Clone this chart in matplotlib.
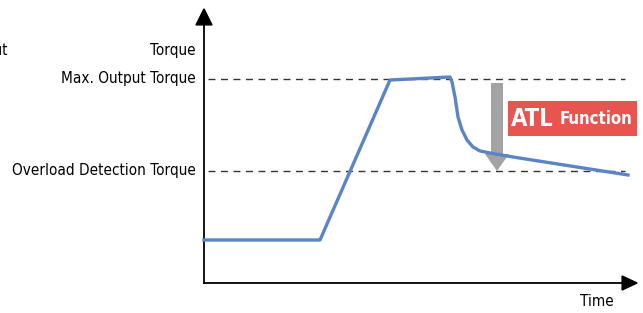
import matplotlib.pyplot as plt
from matplotlib.patches import FancyArrow, Rectangle

plt.rcParams['font.family'] = ['DejaVu Sans']
plt.rcParams['font.stretch'] = 'condensed'

# данные кривой момента (время и момент в условных единицах)
time = [0, 116, 186, 246, 248, 251, 254, 258, 263, 269, 276, 286, 309, 424]
torque = [43, 43, 203, 206, 201, 186, 166, 153, 143, 136, 132, 130, 126, 108]

max_torque = 204       # Max. Output Torque
overload_torque = 112  # Overload Detection Torque
atl_time = 293         # где рисуем серую стрелку
t_end = 421

fig = plt.figure(figsize=(6.43, 3.13), dpi=100)
ax = fig.add_axes([0, 0, 1, 1])
ax.set_xlim(-204, 439)
ax.set_ylim(-30, 283)
ax.axis('off')

# оси со стрелками
ax.plot([0, 0], [0, 262], color='black', lw=1.3)
ax.plot([0, 420], [0, 0], color='black', lw=1.3)
ax.add_patch(FancyArrow(0, 258, 0, 0.1, width=0, head_width=16, head_length=16,
                        length_includes_head=False, color='black'))
ax.add_patch(FancyArrow(418, 0, 0.1, 0, width=0, head_width=14, head_length=15,
                        length_includes_head=False, color='black'))

# пунктирные уровни
for lvl in (max_torque, overload_torque):
    ax.plot([4, t_end], [lvl, lvl], color='#333333', lw=1, dashes=(5, 4))

# кривая
ax.plot(time, torque, color='#5b84c6', lw=2.4, solid_joinstyle='round')

# серая стрелка ATL
ax.add_patch(FancyArrow(atl_time, 200, 0, -(200 - overload_torque),
                        width=12, head_width=24, head_length=17,
                        length_includes_head=True, color='#a3a3a3', lw=0))

# красный блок
ax.add_patch(Rectangle((304, 147), 129, 35, color='#e85450', lw=0))
ax.text(307, 164, 'ATL', color='white', fontsize=17, fontweight='bold', va='center', ha='left')
ax.text(356, 164, 'Function', color='white', fontsize=12, fontweight='bold', va='center', ha='left')

# подписи
fs = 11
ax.text(-8, 233, 'Torque', fontsize=fs, ha='right', va='center')
ax.text(-8, 204, 'Max. Output Torque', fontsize=fs, ha='right', va='center')
ax.text(-8, 112, 'Overload Detection Torque', fontsize=fs, ha='right', va='center')
ax.text(-196, 233, 'Output', fontsize=fs, ha='right', va='center')
ax.text(393, -19, 'Time', fontsize=fs, ha='center', va='center')

fig.savefig('out.png', dpi=100)
